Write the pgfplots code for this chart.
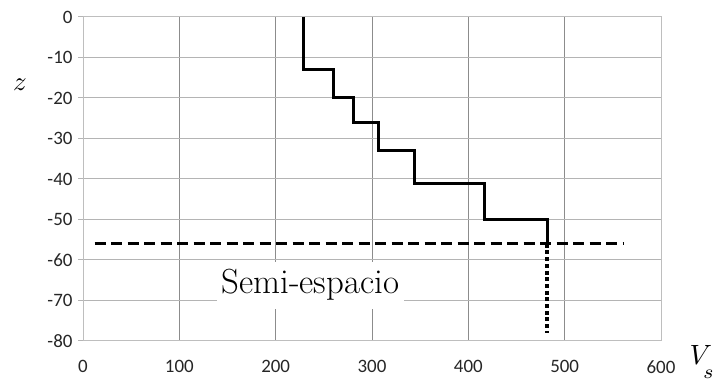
\documentclass[border=0pt]{standalone}
\usepackage{fontspec}
\usepackage{pgfplots}
\pgfplotsset{compat=1.18}
\newfontfamily\calibri{Carlito}
\definecolor{gridv}{HTML}{8C8C8C}
\definecolor{gridh}{HTML}{B4B4B4}
\definecolor{frame}{HTML}{BEBEBE}
\begin{document}
\begin{tikzpicture}
\begin{axis}[
  scale only axis,
  width=578bp, height=324bp,
  xmin=0, xmax=600, ymin=-80, ymax=0,
  xtick={0,100,...,600}, ytick={-80,-70,...,0},
  axis line style={frame, line width=1bp},
  xmajorgrids, ymajorgrids,
  x grid style={gridv, line width=1bp},
  y grid style={gridh, line width=1bp},
  xtick style={draw=none},
  ytick style={gridh, line width=1bp},
  tick align=outside,
  ytick pos=left, xtick pos=bottom,
  major tick length=5bp,
  /pgf/number format/assume math mode=true,
  tick label style={font=\calibri\fontsize{19}{21}\selectfont, text=black!85},
  xticklabel style={yshift=-11bp},
  yticklabel style={xshift=-2bp},
  clip=false,
]
\addplot[black, line width=3bp, line join=miter, line cap=butt] coordinates {
  (229,0) (229,-13) (260,-13) (260,-20) (281,-20) (281,-26) (307,-26) (307,-33)
  (344,-33) (344,-41) (417,-41) (417,-50) (482,-50) (482,-56)
};
\addplot[black, line width=3bp, dash pattern=on 11bp off 5.5bp] coordinates {
  (12,-56) (561,-56)
};
\addplot[black, line width=4bp, dash pattern=on 4bp off 2.7bp] coordinates {
  (482,-56) (482,-78)
};
\node[fill=white, inner xsep=5bp, inner ysep=8bp, font=\fontsize{35}{38}\selectfont] at (axis cs:236,-66.2) {Semi-espacio};
\end{axis}
\node[scale=2.7] at ([xshift=-63bp, yshift=-68bp]current axis.north west) {$z$};
\node[scale=2.8, anchor=base west, inner sep=0pt] at ([xshift=28bp, yshift=-24bp]current axis.south east) {$V_{\kern-1pt\lower3.2pt\hbox{$\scriptstyle s$}}$};
\pgfresetboundingbox
\path[use as bounding box] ([xshift=-83bp, yshift=17bp]current axis.north west) rectangle ([xshift=52bp, yshift=-40bp]current axis.south east);
\end{tikzpicture}
\end{document}
